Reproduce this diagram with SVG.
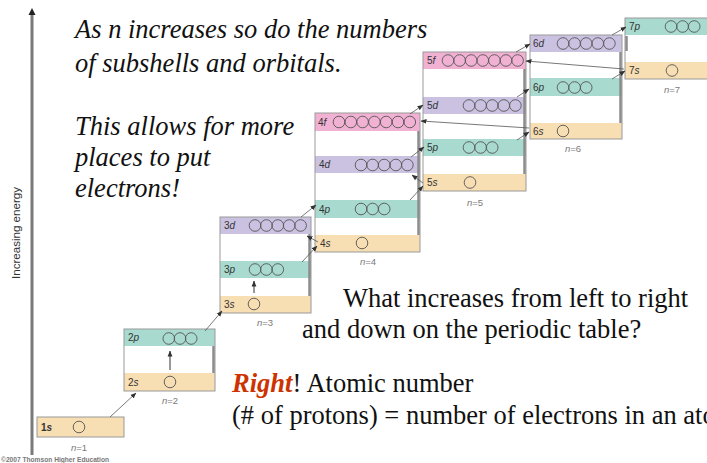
<svg xmlns="http://www.w3.org/2000/svg" width="707" height="463" viewBox="0 0 707 463">
<defs>
<marker id="ah" markerWidth="6" markerHeight="6" refX="5.5" refY="3" orient="auto" markerUnits="userSpaceOnUse"><path d="M0,0.6 L6,3 L0,5.4 z" fill="#333"/></marker>
</defs>
<style>
.frame{fill:none;stroke:#9a9a9a;stroke-width:1}
.s{fill:#f8deb3}.p{fill:#a8dacf}.d{fill:#cbc2e2}.f{fill:#f1b1d3}
.orb{fill:none;stroke:#555;stroke-width:0.9}
.lbl{font-family:"Liberation Sans",Arial,sans-serif;font-size:10px;fill:#333}
.nl{font-family:"Liberation Sans",Arial,sans-serif;font-size:9.5px;fill:#7a7a7a;text-anchor:middle}
.edge{stroke:#8c8c8c;stroke-width:2.5}
.conn{stroke:#555;stroke-width:0.8;fill:none;marker-end:url(#ah)}
.up{stroke:#999;stroke-width:2;fill:none;marker-end:url(#ah)}
.it{font-family:"Liberation Serif","Times New Roman",serif;font-style:italic;font-size:26.5px;fill:#111}
.rm{font-family:"Liberation Serif","Times New Roman",serif;font-size:26.5px;fill:#111}
</style>
<rect width="707" height="463" fill="#fff"/>

<g id="axis">
<line x1="32" y1="455" x2="32" y2="14" stroke="#7a7a7a" stroke-width="3"/>
<path d="M32,8 L35.5,15 L28.5,15 z" fill="#222"/>
<text transform="translate(20,233) rotate(-90)" text-anchor="middle" font-family="Liberation Sans, Arial, sans-serif" font-size="10" fill="#333" textLength="92" lengthAdjust="spacingAndGlyphs">Increasing energy</text>
<text x="1" y="462" font-family="Liberation Sans, Arial, sans-serif" font-size="6.5" font-weight="bold" fill="#777" textLength="108" lengthAdjust="spacingAndGlyphs">©2007 Thomson Higher Education</text>
</g>

<g id="n1">
<rect x="37" y="417" width="87" height="20" class="s"/>
<rect x="37" y="417" width="87" height="20" class="frame" stroke="#888"/>
<text x="41" y="431" class="lbl" font-weight="bold">1<tspan font-style="italic">s</tspan></text>
<circle cx="79" cy="427" r="5.8" class="orb"/>
<text x="79" y="451" class="nl"><tspan font-style="italic">n</tspan>=1</text>
</g>

<g id="n2">
<rect x="124" y="329" width="91" height="17" class="p"/>
<rect x="124" y="373" width="91" height="18" class="s"/>
<rect x="124" y="329" width="91" height="62" class="frame"/>
<line x1="213.5" y1="346" x2="213.5" y2="373" class="edge"/>
<text x="128" y="341" class="lbl">2<tspan font-style="italic">p</tspan></text>
<circle cx="168.8" cy="338.5" r="5.8" class="orb"/><circle cx="180" cy="338.5" r="5.8" class="orb"/><circle cx="191.2" cy="338.5" r="5.8" class="orb"/>
<text x="128" y="386" class="lbl">2<tspan font-style="italic">s</tspan></text>
<circle cx="170" cy="382" r="5.8" class="orb"/>
<text x="170" y="404" class="nl"><tspan font-style="italic">n</tspan>=2</text>
</g>

<g id="n3">
<rect x="220" y="217" width="91" height="17" class="d"/>
<rect x="220" y="261" width="91" height="17" class="p"/>
<rect x="220" y="296" width="91" height="17" class="s"/>
<rect x="220" y="217" width="91" height="96" class="frame"/>
<line x1="309.5" y1="234" x2="309.5" y2="296" class="edge"/>
<text x="224" y="229" class="lbl">3<tspan font-style="italic">d</tspan></text>
<circle cx="255" cy="225.5" r="5.8" class="orb"/><circle cx="266.4" cy="225.5" r="5.8" class="orb"/><circle cx="277.8" cy="225.5" r="5.8" class="orb"/><circle cx="289.2" cy="225.5" r="5.8" class="orb"/><circle cx="300.6" cy="225.5" r="5.8" class="orb"/>
<text x="224" y="273" class="lbl">3<tspan font-style="italic">p</tspan></text>
<circle cx="255" cy="269.5" r="5.8" class="orb"/><circle cx="266.4" cy="269.5" r="5.8" class="orb"/><circle cx="277.8" cy="269.5" r="5.8" class="orb"/>
<text x="224" y="308" class="lbl">3<tspan font-style="italic">s</tspan></text>
<circle cx="254" cy="304" r="5.8" class="orb"/>
<text x="265" y="326" class="nl"><tspan font-style="italic">n</tspan>=3</text>
</g>

<g id="n4">
<rect x="315" y="113" width="105" height="18" class="f"/>
<rect x="315" y="156" width="105" height="17" class="d"/>
<rect x="315" y="200" width="105" height="18" class="p"/>
<rect x="315" y="235" width="105" height="17" class="s"/>
<rect x="315" y="113" width="105" height="139" class="frame"/>
<line x1="418.5" y1="131" x2="418.5" y2="235" class="edge"/>
<text x="318" y="126" class="lbl">4<tspan font-style="italic">f</tspan></text>
<circle cx="339" cy="122" r="5.8" class="orb"/><circle cx="350.8" cy="122" r="5.8" class="orb"/><circle cx="362.6" cy="122" r="5.8" class="orb"/><circle cx="374.4" cy="122" r="5.8" class="orb"/><circle cx="386.2" cy="122" r="5.8" class="orb"/><circle cx="398" cy="122" r="5.8" class="orb"/><circle cx="409.8" cy="122" r="5.8" class="orb"/>
<text x="319" y="168" class="lbl">4<tspan font-style="italic">d</tspan></text>
<circle cx="361" cy="165" r="5.8" class="orb"/><circle cx="372.6" cy="165" r="5.8" class="orb"/><circle cx="384.2" cy="165" r="5.8" class="orb"/><circle cx="395.8" cy="165" r="5.8" class="orb"/><circle cx="407.4" cy="165" r="5.8" class="orb"/>
<text x="319" y="213" class="lbl">4<tspan font-style="italic">p</tspan></text>
<circle cx="361" cy="209" r="5.8" class="orb"/><circle cx="372.6" cy="209" r="5.8" class="orb"/><circle cx="384.2" cy="209" r="5.8" class="orb"/>
<text x="320" y="247" class="lbl">4<tspan font-style="italic">s</tspan></text>
<circle cx="362" cy="243" r="5.8" class="orb"/>
<text x="368" y="265" class="nl"><tspan font-style="italic">n</tspan>=4</text>
</g>

<g id="n5">
<rect x="423" y="52" width="103" height="17" class="f"/>
<rect x="423" y="97" width="103" height="17" class="d"/>
<rect x="423" y="139" width="103" height="17" class="p"/>
<rect x="423" y="174" width="103" height="17" class="s"/>
<rect x="423" y="52" width="103" height="139" class="frame"/>
<line x1="524.5" y1="69" x2="524.5" y2="174" class="edge"/>
<text x="427" y="64" class="lbl">5<tspan font-style="italic">f</tspan></text>
<circle cx="448" cy="60.5" r="5.8" class="orb"/><circle cx="459.6" cy="60.5" r="5.8" class="orb"/><circle cx="471.2" cy="60.5" r="5.8" class="orb"/><circle cx="482.8" cy="60.5" r="5.8" class="orb"/><circle cx="494.4" cy="60.5" r="5.8" class="orb"/><circle cx="506" cy="60.5" r="5.8" class="orb"/><circle cx="517.6" cy="60.5" r="5.8" class="orb"/>
<text x="427" y="109" class="lbl">5<tspan font-style="italic">d</tspan></text>
<circle cx="469" cy="105.5" r="5.8" class="orb"/><circle cx="480.6" cy="105.5" r="5.8" class="orb"/><circle cx="492.2" cy="105.5" r="5.8" class="orb"/><circle cx="503.8" cy="105.5" r="5.8" class="orb"/><circle cx="515.4" cy="105.5" r="5.8" class="orb"/>
<text x="427" y="151" class="lbl">5<tspan font-style="italic">p</tspan></text>
<circle cx="469" cy="147.5" r="5.8" class="orb"/><circle cx="480.6" cy="147.5" r="5.8" class="orb"/><circle cx="492.2" cy="147.5" r="5.8" class="orb"/>
<text x="427" y="186" class="lbl">5<tspan font-style="italic">s</tspan></text>
<circle cx="470" cy="182.5" r="5.8" class="orb"/>
<text x="475" y="206" class="nl"><tspan font-style="italic">n</tspan>=5</text>
</g>

<g id="n6">
<rect x="530" y="35" width="92" height="17" class="d"/>
<rect x="530" y="78" width="92" height="18" class="p"/>
<rect x="530" y="123" width="92" height="16" class="s"/>
<rect x="530" y="35" width="92" height="104" class="frame"/>
<line x1="620.5" y1="52" x2="620.5" y2="123" class="edge"/>
<text x="533" y="47" class="lbl">6<tspan font-style="italic">d</tspan></text>
<circle cx="563" cy="43.5" r="5.8" class="orb"/><circle cx="574.6" cy="43.5" r="5.8" class="orb"/><circle cx="586.2" cy="43.5" r="5.8" class="orb"/><circle cx="597.8" cy="43.5" r="5.8" class="orb"/><circle cx="609.4" cy="43.5" r="5.8" class="orb"/>
<text x="533" y="91" class="lbl">6<tspan font-style="italic">p</tspan></text>
<circle cx="563" cy="87.5" r="5.8" class="orb"/><circle cx="574.6" cy="87.5" r="5.8" class="orb"/><circle cx="586.2" cy="87.5" r="5.8" class="orb"/>
<text x="533" y="135" class="lbl">6<tspan font-style="italic">s</tspan></text>
<circle cx="563" cy="131" r="5.8" class="orb"/>
<text x="573" y="152" class="nl"><tspan font-style="italic">n</tspan>=6</text>
</g>

<g id="n7">
<rect x="625" y="18" width="90" height="17" class="p"/>
<rect x="625" y="62" width="90" height="17" class="s"/>
<rect x="625" y="18" width="90" height="61" class="frame"/>
<line x1="626.5" y1="36" x2="626.5" y2="51" class="edge"/>
<text x="629" y="30" class="lbl">7<tspan font-style="italic">p</tspan></text>
<circle cx="671" cy="26.5" r="5.8" class="orb"/><circle cx="682.6" cy="26.5" r="5.8" class="orb"/><circle cx="694.2" cy="26.5" r="5.8" class="orb"/>
<text x="629" y="74" class="lbl">7<tspan font-style="italic">s</tspan></text>
<circle cx="672" cy="70.5" r="5.8" class="orb"/>
<text x="672" y="93" class="nl"><tspan font-style="italic">n</tspan>=7</text>
</g>

<g id="connectors">
<path class="conn" d="M110,417 L136,393"/>
<path class="up" d="M170,370 L170,351"/>
<path class="conn" d="M205,331 L222,311"/>
<path class="up" d="M254,293 L254,281"/>
<path class="conn" d="M302,262 L317,246"/>
<path class="conn" d="M318,242 L307,236"/>
<path class="conn" d="M301,217 L316,205"/>
<path class="conn" d="M410,200 L423,186"/>
<path class="conn" d="M423,183 L412,175"/>
<path class="conn" d="M411,157 L424,147"/>
<path class="conn" d="M517,140 L529,132"/>
<path class="conn" d="M529,128 L421,121"/>
<path class="conn" d="M410,114 L423,105"/>
<path class="conn" d="M517,97 L529,89"/>
<path class="conn" d="M612,79 L625,71"/>
<path class="conn" d="M624,69 L526,61"/>
<path class="conn" d="M516,52 L530,44"/>
<path class="conn" d="M612,35 L626,27"/>
</g>

<g id="text">
<text x="75" y="38" class="it">As n increases so do the numbers</text>
<text x="75" y="72" class="it">of subshells and orbitals.</text>
<text x="75" y="135" class="it">This allows for more</text>
<text x="75" y="166" class="it">places to put</text>
<text x="75" y="197" class="it">electrons!</text>
<text x="343" y="307" class="rm">What increases from left to right</text>
<text x="302" y="338" class="rm">and down on the periodic table?</text>
<text x="232" y="392" class="rm"><tspan font-style="italic" font-weight="bold" fill="#cc3300">Right</tspan>! Atomic number</text>
<text x="232" y="424" class="rm">(# of protons) = number of electrons in an atom</text>
</g>
</svg>
